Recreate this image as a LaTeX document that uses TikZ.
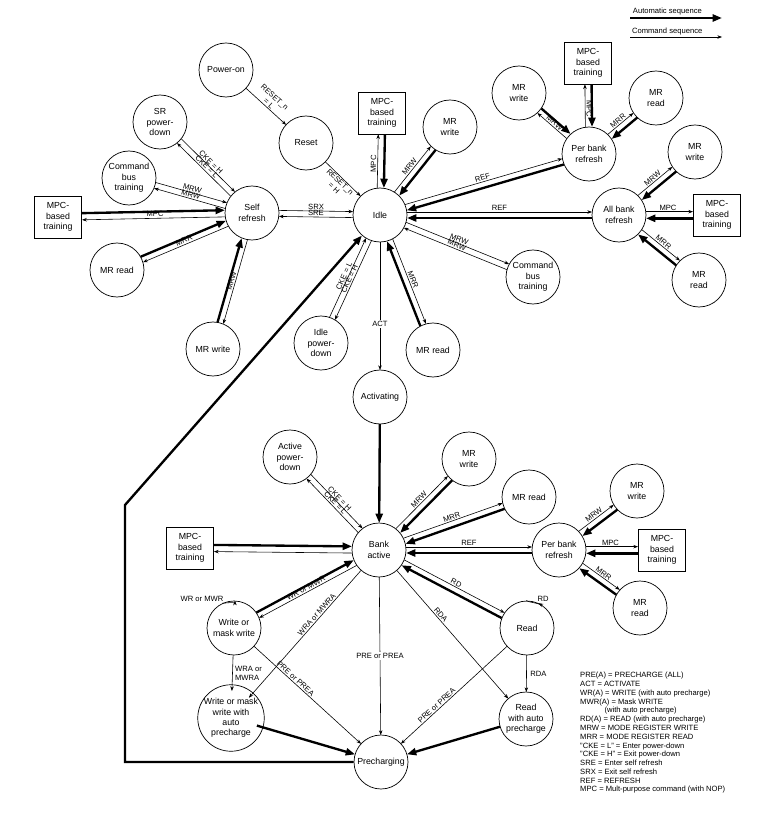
\documentclass[tikz,border=0pt]{standalone}
\usepackage{fontspec}
\setmainfont{Liberation Sans}
\usetikzlibrary{calc,arrows.meta}
\newcommand\lblf{\fontsize{6.5}{7.5}\selectfont}
\newcommand\stf{\fontsize{7.5}{8.8}\selectfont}
\newcommand\E[7][0.09cm]{\draw[#2,shorten <=#5,shorten >=#6] ($(#3)!#1!90:(#4)$) -- #7 ($(#4)!#1!-90:(#3)$);}
\tikzset{
 st/.style={circle,draw,line width=0.6pt,minimum size=1.62cm,inner sep=0pt,align=center,font=\stf},
 bx/.style={rectangle,draw,line width=0.6pt,minimum width=1.41cm,minimum height=1.26cm,inner sep=0pt,align=center,font=\stf},
 cmd/.style={line width=0.5pt,-{Stealth[length=4pt,width=3pt]}},
 aut/.style={line width=2pt,-{Triangle[length=8pt,width=6pt]}},
 lab/.style={font=\lblf,sloped,inner sep=1pt},
}
\begin{document}
\begin{tikzpicture}[x=0.03cm,y=-0.03cm]
\useasboundingbox (0,0) rectangle (778,822);
\def\c{0.81cm}\def\bh{0.72cm}\def\bv{0.64cm}
% nodes
\node[st] (pwr) at (226,70) {Power-on};
\node[st] (srpd) at (160,122) {SR\\power-\\down};
\node[st] (rst) at (306,143) {Reset};
\node[st] (cbtL) at (129,178) {Command\\bus\\training};
\node[st] (self) at (252,213) {Self\\refresh};
\node[bx] (mpcL) at (58,217) {MPC-\\based\\training};
\node[st] (mrrL) at (117,270) {MR read};
\node[st] (mrwL) at (213,349) {MR write};
\node[st] (idle) at (380,215) {Idle};
\node[bx] (mpcT) at (382,113) {MPC-\\based\\training};
\node[st] (mrwT) at (450,127) {MR\\write};
\node[st] (ipd) at (321,343) {Idle\\power-\\down};
\node[st] (mrrI) at (433,350) {MR read};
\node[st] (act) at (380,397) {Activating};
\node[st] (cbtR) at (533,277) {Command\\bus\\training};
\node[st] (pbrT) at (589,154) {Per bank\\refresh};
\node[bx] (mpcPT) at (588,63) {MPC-\\based\\training};
\node[st] (mrwPT) at (519,93) {MR\\write};
\node[st] (mrrPT) at (656,98) {MR\\read};
\node[st] (mrwA) at (695,152) {MR\\write};
\node[st] (abr) at (619,215) {All bank\\refresh};
\node[bx] (mpcA) at (717,215) {MPC-\\based\\training};
\node[st] (mrrA) at (699,280) {MR\\read};
\node[st] (ba) at (379,550) {Bank\\active};
\node[st] (apd) at (290,457) {Active\\power-\\down};
\node[st] (mrwB) at (469,459) {MR\\write};
\node[st] (mrrB) at (529,497) {MR read};
\node[bx] (mpcB) at (190,548) {MPC-\\based\\training};
\node[st] (pbrB) at (559,550) {Per bank\\refresh};
\node[st] (mrwBR) at (637,491) {MR\\write};
\node[bx] (mpcBR) at (662,550) {MPC-\\based\\training};
\node[st] (mrrBR) at (640,608) {MR\\read};
\node[st] (wr) at (234,628) {Write or\\mask write};
\node[st] (rd) at (527,628) {Read};
\node[st] (wra) at (231,718) {Write or mask\\write with\\auto\\precharge};
\node[st] (rda) at (526,719) {Read\\with auto\\precharge};
\node[st] (pre) at (381,762) {Precharging};
% legend
\coordinate (la1) at (630,18); \coordinate (la2) at (722,18);
\coordinate (lc1) at (630,37); \coordinate (lc2) at (722,37);
\draw[aut] (la1) -- node[font=\lblf,anchor=south west,pos=0,inner sep=1.5pt]{Automatic sequence} (la2);
\draw[cmd] (lc1) -- node[font=\lblf,anchor=south west,pos=0,inner sep=1.5pt]{Command sequence} (lc2);
\node[anchor=north west,align=left,font=\lblf,inner sep=0pt] (leg) at (580,672) {PRE(A) = PRECHARGE (ALL)\\ACT = ACTIVATE\\WR(A) = WRITE (with auto precharge)\\MWR(A) = Mask WRITE\\\hspace{3.2em}(with auto precharge)\\RD(A) = READ (with auto precharge)\\MRW = MODE REGISTER WRITE\\MRR = MODE REGISTER READ\\"CKE = L" = Enter power-down\\"CKE = H" = Exit power-down\\SRE = Enter self refresh\\SRX = Exit self refresh\\REF = REFRESH\\MPC = Mult-purpose command (with NOP)};
% top-left
\E[0cm]{cmd}{pwr}{rst}{\c}{\c}{node[lab,above,align=center]{RESET\_n\\= L}}
\E[0cm]{cmd}{rst}{idle}{\c}{\c}{node[lab,below,align=center]{RESET\_n\\= H}}
\E{cmd}{self}{srpd}{\c}{\c}{node[lab,above]{CKE = L}}
\E{cmd}{srpd}{self}{\c}{\c}{node[lab,above]{CKE = H}}
\E{cmd}{self}{cbtL}{\c}{\c}{node[lab,above]{MRW}}
\E{cmd}{cbtL}{self}{\c}{\c}{node[lab,above]{MRW}}
\E[0.1cm]{cmd}{self}{mpcL}{\c}{\bh}{node[lab,above]{MPC}}
\E[0.1cm]{aut}{mpcL}{self}{\bh}{\c}{}
\E{cmd}{self}{mrrL}{\c}{\c}{node[lab,above]{MRR}}
\E{aut}{mrrL}{self}{\c}{\c}{}
\E{cmd}{self}{mrwL}{\c}{\c}{node[lab,above]{MRW}}
\E{aut}{mrwL}{self}{\c}{\c}{}
\E{cmd}{idle}{self}{\c}{\c}{node[lab,above]{SRE}}
\E{cmd}{self}{idle}{\c}{\c}{node[lab,above]{SRX}}
% idle
\E[0.1cm]{cmd}{idle}{mpcT}{\c}{\bv}{node[lab,above]{MPC}}
\E[0.1cm]{aut}{mpcT}{idle}{\bv}{\c}{}
\E{cmd}{idle}{mrwT}{\c}{\c}{node[lab,above]{MRW}}
\E{aut}{mrwT}{idle}{\c}{\c}{}
\E{cmd}{idle}{pbrT}{\c}{\c}{node[lab,above]{REF}}
\E{aut}{pbrT}{idle}{\c}{\c}{}
\E{cmd}{idle}{abr}{\c}{\c}{node[lab,above]{REF}}
\E{aut}{abr}{idle}{\c}{\c}{}
\E{cmd}{idle}{cbtR}{\c}{\c}{node[lab,above]{MRW}}
\E{cmd}{cbtR}{idle}{\c}{\c}{node[lab,above]{MRW}}
\E{cmd}{idle}{mrrI}{\c}{\c}{node[lab,above]{MRR}}
\E{aut}{mrrI}{idle}{\c}{\c}{}
\E{cmd}{idle}{ipd}{\c}{\c}{node[lab,above]{CKE = H}}
\E{cmd}{ipd}{idle}{\c}{\c}{node[lab,above]{CKE = L}}
\E[0cm]{cmd}{idle}{act}{\c}{\c}{node[pos=0.6,fill=white,font=\lblf,inner sep=1pt]{ACT}}
\E[0cm]{aut}{act}{ba}{\c}{\c}{}
% per bank top
\E{cmd}{pbrT}{mrwPT}{\c}{\c}{node[lab,above]{MRW}}
\E{aut}{mrwPT}{pbrT}{\c}{\c}{}
\E[0.1cm]{cmd}{pbrT}{mpcPT}{\c}{\bv}{node[lab,above]{MPC}}
\E[0.1cm]{aut}{mpcPT}{pbrT}{\bv}{\c}{}
\E{cmd}{pbrT}{mrrPT}{\c}{\c}{node[lab,above]{MRR}}
\E{aut}{mrrPT}{pbrT}{\c}{\c}{}
% all bank
\E{cmd}{abr}{mrwA}{\c}{\c}{node[lab,above]{MRW}}
\E{aut}{mrwA}{abr}{\c}{\c}{}
\E[0.1cm]{cmd}{abr}{mpcA}{\c}{\bh}{node[lab,above]{MPC}}
\E[0.1cm]{aut}{mpcA}{abr}{\bh}{\c}{}
\E{cmd}{abr}{mrrA}{\c}{\c}{node[lab,above]{MRR}}
\E{aut}{mrrA}{abr}{\c}{\c}{}
% bank active
\E{cmd}{ba}{apd}{\c}{\c}{node[lab,above]{CKE = L}}
\E{cmd}{apd}{ba}{\c}{\c}{node[lab,above]{CKE = H}}
\E{cmd}{ba}{mrwB}{\c}{\c}{node[lab,above]{MRW}}
\E{aut}{mrwB}{ba}{\c}{\c}{}
\E{cmd}{ba}{mrrB}{\c}{\c}{node[lab,above]{MRR}}
\E{aut}{mrrB}{ba}{\c}{\c}{}
\E[0.1cm]{cmd}{ba}{mpcB}{\c}{\bh}{}
\E[0.1cm]{aut}{mpcB}{ba}{\bh}{\c}{}
\E{cmd}{ba}{pbrB}{\c}{\c}{node[lab,above]{REF}}
\E{aut}{pbrB}{ba}{\c}{\c}{}
\E{cmd}{pbrB}{mrwBR}{\c}{\c}{node[lab,above]{MRW}}
\E{aut}{mrwBR}{pbrB}{\c}{\c}{}
\E[0.1cm]{cmd}{pbrB}{mpcBR}{\c}{\bh}{node[lab,above]{MPC}}
\E[0.1cm]{aut}{mpcBR}{pbrB}{\bh}{\c}{}
\E{cmd}{pbrB}{mrrBR}{\c}{\c}{node[lab,above]{MRR}}
\E{aut}{mrrBR}{pbrB}{\c}{\c}{}
\E{cmd}{ba}{wr}{\c}{\c}{node[lab,above]{WR or MWR}}
\E{aut}{wr}{ba}{\c}{\c}{}
\E{cmd}{ba}{rd}{\c}{\c}{node[lab,above]{RD}}
\E{aut}{rd}{ba}{\c}{\c}{}
\E[0cm]{cmd}{wr}{wra}{\c}{\c}{node[right,font=\lblf,align=left,inner sep=2pt]{WRA or\\MWRA}}
\E[0cm]{cmd}{rd}{rda}{\c}{\c}{node[right,font=\lblf,inner sep=3pt]{RDA}}
\E[0cm]{cmd}{ba}{wra}{\c}{\c}{node[lab,above,pos=0.4]{WRA or MWRA}}
\E[0cm]{cmd}{ba}{rda}{\c}{\c}{node[lab,above,pos=0.4]{RDA}}
\E[0cm]{cmd}{ba}{pre}{\c}{\c}{node[fill=white,font=\lblf,inner sep=1pt]{PRE or PREA}}
\E[0cm]{cmd}{wr}{pre}{\c}{\c}{node[lab,above,pos=0.4]{PRE or PREA}}
\E[0cm]{cmd}{rd}{pre}{\c}{\c}{node[lab,above,pos=0.6]{PRE or PREA}}
\E[0cm]{aut}{wra}{pre}{\c}{\c}{}
\E[0cm]{aut}{rda}{pre}{\c}{\c}{}
\draw[cmd] (wr.115) .. controls +(150:0.9) and +(90:0.7) .. (wr.88) node[pos=0.3,above left,font=\lblf,inner sep=1pt]{WR or MWR};
\draw[cmd] (rd.92) .. controls +(90:0.7) and +(30:0.9) .. (rd.65) node[pos=0.7,above right,font=\lblf,inner sep=1pt]{RD};
\coordinate (k2) at (125,505);
\draw[aut] (pre.west) -- (pre.west -| k2) -- (k2) -- (idle);
\end{tikzpicture}
\end{document}
